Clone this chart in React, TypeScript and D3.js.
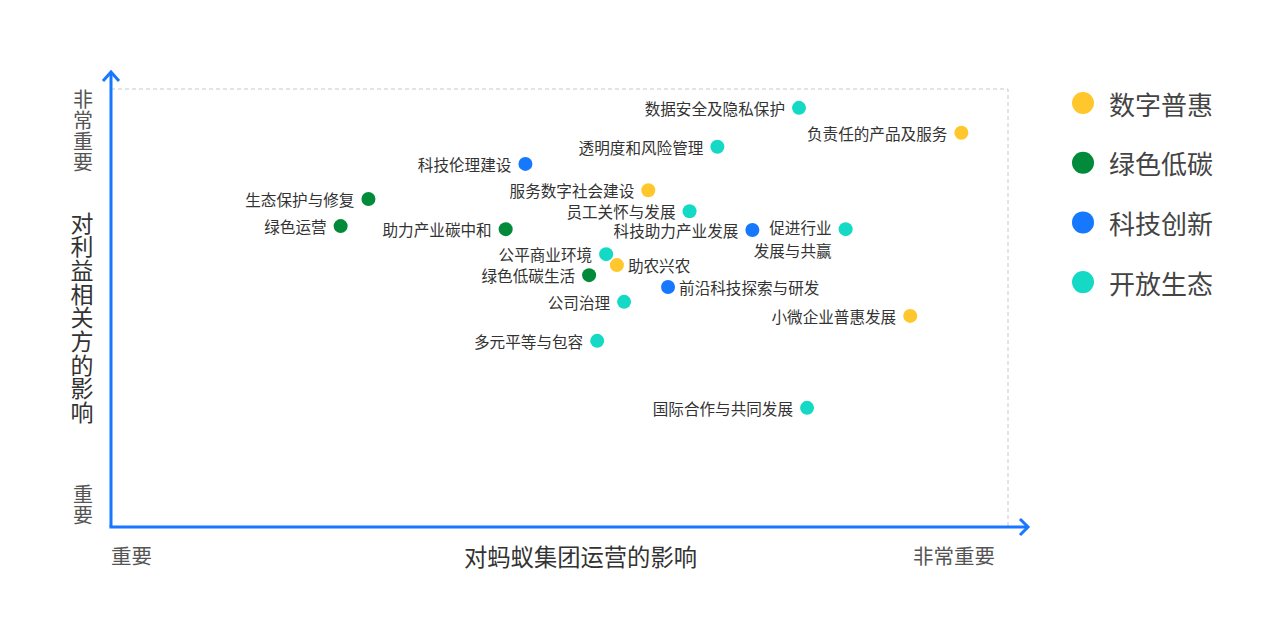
import React from "react";
import * as d3 from "d3";

const categories = ["数字普惠", "绿色低碳", "科技创新", "开放生态"];
const categoryColors = ["#FFC72C", "#008A3A", "#1677FF", "#14D9C4"];

const topicNames = [
  "数据安全及隐私保护", "负责任的产品及服务", "透明度和风险管理", "科技伦理建设",
  "服务数字社会建设", "生态保护与修复", "员工关怀与发展", "绿色运营",
  "助力产业碳中和", "科技助力产业发展", "促进行业发展与共赢", "公平商业环境",
  "助农兴农", "绿色低碳生活", "前沿科技探索与研发", "公司治理",
  "小微企业普惠发展", "多元平等与包容", "国际合作与共同发展",
];
const topicCategory = [
  "开放生态", "数字普惠", "开放生态", "科技创新",
  "数字普惠", "绿色低碳", "开放生态", "绿色低碳",
  "绿色低碳", "科技创新", "开放生态", "开放生态",
  "数字普惠", "绿色低碳", "科技创新", "开放生态",
  "数字普惠", "开放生态", "开放生态",
];
// impact on Ant Group operations (x) and on stakeholders (y), 0-100
const impactOnGroup = [76.7, 94.8, 67.6, 46.2, 59.9, 28.7, 64.5, 25.6, 44.0, 71.5, 81.9, 55.2, 56.4, 53.3, 62.1, 57.2, 89.1, 54.2, 77.6];
const impactOnStakeholders = [95.7, 90.0, 86.8, 82.9, 76.9, 74.9, 72.1, 68.7, 68.0, 67.8, 68.0, 62.3, 59.8, 57.5, 54.8, 51.4, 48.2, 42.5, 27.2];

// label placement (layout)
const labelRight = new Set(["助农兴农", "前沿科技探索与研发"]);
const labelLines: Record<string, string[]> = { "促进行业发展与共赢": ["促进行业", "发展与共赢"] };

const yTicksLabels = ["重要", "非常重要"];
const xTicksLabels = ["重要", "非常重要"];
const xTitle = "对蚂蚁集团运营的影响";
const yTitle = "对利益相关方的影响";

const W = 1280, H = 630;
const FONT = "'Noto Sans CJK SC', 'Noto Sans', sans-serif";

export default function App() {
  const x0 = 111, x1 = 1008, y0 = 527, y1 = 89;
  const x = d3.scaleLinear().domain([0, 100]).range([x0, x1]);
  const y = d3.scaleLinear().domain([0, 100]).range([y0, y1]);
  const color = d3.scaleOrdinal<string, string>().domain(categories).range(categoryColors);
  const axisColor = "#1677FF";

  const vertical = (text: string, cx: number, cy: number, size: number, spacing: number, fill: string) => (
    <text x={cx} y={cy} fontSize={size} fill={fill} textAnchor="middle"
      style={{ writingMode: "vertical-rl", letterSpacing: spacing }}>{text}</text>
  );

  return (
    <svg width={W} height={H} style={{ position: "absolute", left: 0, top: 0, background: "#fff" }} fontFamily={FONT}>
      {/* dashed frame */}
      <path d={`M${x0},${y1}H${x1}V${y0}`} fill="none" stroke="#c8c8c8" strokeWidth={1} strokeDasharray="4,3" />
      {/* axes */}
      <line x1={x0} y1={y0} x2={x0} y2={73} stroke={axisColor} strokeWidth={3} />
      <path d={`M${x0 - 8},${81}L${x0},${72}L${x0 + 8},${81}`} fill="none" stroke={axisColor} strokeWidth={3} />
      <line x1={x0 - 1.5} y1={y0} x2={1027} y2={y0} stroke={axisColor} strokeWidth={3} />
      <path d={`M${1020},${y0 - 8}L${1028},${y0}L${1020},${y0 + 8}`} fill="none" stroke={axisColor} strokeWidth={3} />

      {/* y axis labels */}
      {vertical(yTicksLabels[1], 83, 131, 20, 1, "#555")}
      {vertical(yTicksLabels[0], 83, 505, 20, 1, "#555")}
      {vertical(yTitle, 82, 318, 23, 0.7, "#333")}

      {/* x axis labels */}
      <text x={x0} y={555} fontSize={20.5} fill="#555" dominantBaseline="central">{xTicksLabels[0]}</text>
      <text x={995} y={555} fontSize={20.5} fill="#555" textAnchor="end" dominantBaseline="central">{xTicksLabels[1]}</text>
      <text x={580.5} y={556} fontSize={23.3} fill="#333" textAnchor="middle" dominantBaseline="central">{xTitle}</text>

      {/* points */}
      {topicNames.map((name, i) => {
        const cx = x(impactOnGroup[i]);
        const cy = y(impactOnStakeholders[i]);
        const right = labelRight.has(name);
        const lines = labelLines[name] || [name];
        const lx = right ? cx + 11 : cx - 14;
        const lineH = 22.8;
        return (
          <g key={name}>
            <circle cx={cx} cy={cy} r={7} fill={color(topicCategory[i])} />
            {lines.map((ln, j) => (
              <text key={j} x={lx} y={lines.length > 1 ? cy - 2 + j * lineH : cy} fontSize={15.6} fill="#333"
                textAnchor={right ? "start" : "end"} dominantBaseline="central">{ln}</text>
            ))}
          </g>
        );
      })}

      {/* legend */}
      {categories.map((c, i) => (
        <g key={c} transform={`translate(1083, ${103 + i * 59.7})`}>
          <circle r={11} fill={color(c)} />
          <text x={26} fontSize={26} fill="#444" dominantBaseline="central">{c}</text>
        </g>
      ))}
    </svg>
  );
}
